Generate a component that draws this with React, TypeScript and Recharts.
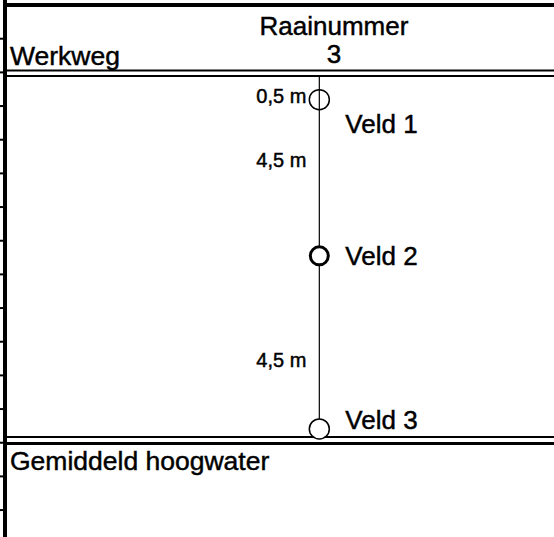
import React from 'react';
import { ScatterChart, Scatter, XAxis, YAxis, ReferenceLine } from 'recharts';

// Raai-schets: verticale as = afstand op de liniaal links (eenheden), horizontale as = raainummer
const raaiNummer = 3;
const veldNamen = ['Veld 1', 'Veld 2', 'Veld 3'];
const veldPositie = [2.81, 7.45, 12.59];
const veldLabelPositie = [3.81, 7.72, 12.6];
const afstandLabels = ['0,5 m', '4,5 m', '4,5 m'];
const afstandPositie = [2.91, 4.82, 10.74];
const kopTeksten = ['Raainummer', String(raaiNummer)];
const kopPositie = [0.89, 1.73];
const kopX = 3.14;
const zoneTeksten = ['Werkweg', 'Gemiddeld hoogwater'];
const zonePositie = [1.78, 13.81];
const werkwegLijnen = [1.944, 2.107];
const hoogwaterLijnen = [12.83, 13.02];
const liniaalTicks = [1, 2, 3, 4, 5, 6, 7, 8, 9, 10, 11, 12, 13, 14, 15];

const FONT = '"Liberation Sans", Arial, sans-serif';

const veldData = veldNamen.map((naam, i) => ({ x: raaiNummer, y: veldPositie[i], naam }));
const veldLabelData = veldNamen.map((naam, i) => ({ x: raaiNummer, y: veldLabelPositie[i], naam }));
const afstandData = afstandLabels.map((tekst, i) => ({ x: raaiNummer, y: afstandPositie[i], tekst }));
const kopData = kopTeksten.map((tekst, i) => ({ x: kopX, y: kopPositie[i], tekst }));
const zoneData = zoneTeksten.map((tekst, i) => ({ x: 0, y: zonePositie[i], tekst }));

const renderVeld = (props: any) => {
  const { cx, cy, payload } = props;
  // Veld 1 is een open cirkel (lijn loopt erdoor), veld 2 dik omrand
  if (payload.naam === 'Veld 1') {
    return <circle cx={cx} cy={cy} r={10} fill="none" stroke="#000" strokeWidth={1.5} />;
  }
  if (payload.naam === 'Veld 2') {
    return <circle cx={cx} cy={cy} r={9} fill="#fff" stroke="#000" strokeWidth={3} />;
  }
  return <circle cx={cx} cy={cy} r={10} fill="#fff" stroke="#000" strokeWidth={1.5} />;
};

const tekstShape = (anchor: string, dx: number, size: number, key: string) => (props: any) => {
  const { cx, cy, payload } = props;
  return (
    <text x={cx + dx} y={cy} textAnchor={anchor} fontSize={size} fontFamily={FONT}
      fill="#000" stroke="#000" strokeWidth={0.45}>
      {payload[key]}
    </text>
  );
};

export default function App() {
  return (
    <div style={{ position: 'absolute', left: 0, top: 0, width: 554, height: 537, background: '#fff' }}>
      <ScatterChart width={554} height={537} margin={{ top: 0, right: 0, bottom: 0, left: 0 }}>
        <XAxis type="number" dataKey="x" domain={[0, 5.24]} hide allowDataOverflow />
        <YAxis
          type="number"
          dataKey="y"
          domain={[-0.15, 15.8]}
          reversed
          allowDataOverflow
          width={5}
          ticks={liniaalTicks}
          tick={() => <g />}
          tickSize={6}
          axisLine={{ stroke: '#000', strokeWidth: 4 }}
          tickLine={{ stroke: '#000', strokeWidth: 2 }}
        />
        <ReferenceLine y={0} stroke="#000" strokeWidth={4} />
        {werkwegLijnen.map(v => (
          <ReferenceLine key={'w' + v} y={v} stroke="#000" strokeWidth={2} />
        ))}
        {hoogwaterLijnen.map((v, i) => (
          <ReferenceLine key={'h' + v} y={v} stroke="#000" strokeWidth={i === 0 ? 2 : 3} />
        ))}
        <ReferenceLine
          segment={[{ x: raaiNummer, y: werkwegLijnen[1] }, { x: raaiNummer, y: hoogwaterLijnen[0] }]}
          stroke="#000"
          strokeWidth={1.2}
        />
        <Scatter data={veldData} shape={renderVeld} isAnimationActive={false} />
        <Scatter data={veldLabelData} shape={tekstShape('start', 26, 26, 'naam')} isAnimationActive={false} />
        <Scatter data={afstandData} shape={tekstShape('end', -13, 20, 'tekst')} isAnimationActive={false} />
        <Scatter data={kopData} shape={tekstShape('middle', 0, 26, 'tekst')} isAnimationActive={false} />
        <Scatter data={zoneData} shape={tekstShape('start', 5, 26.5, 'tekst')} isAnimationActive={false} />
      </ScatterChart>
    </div>
  );
}
